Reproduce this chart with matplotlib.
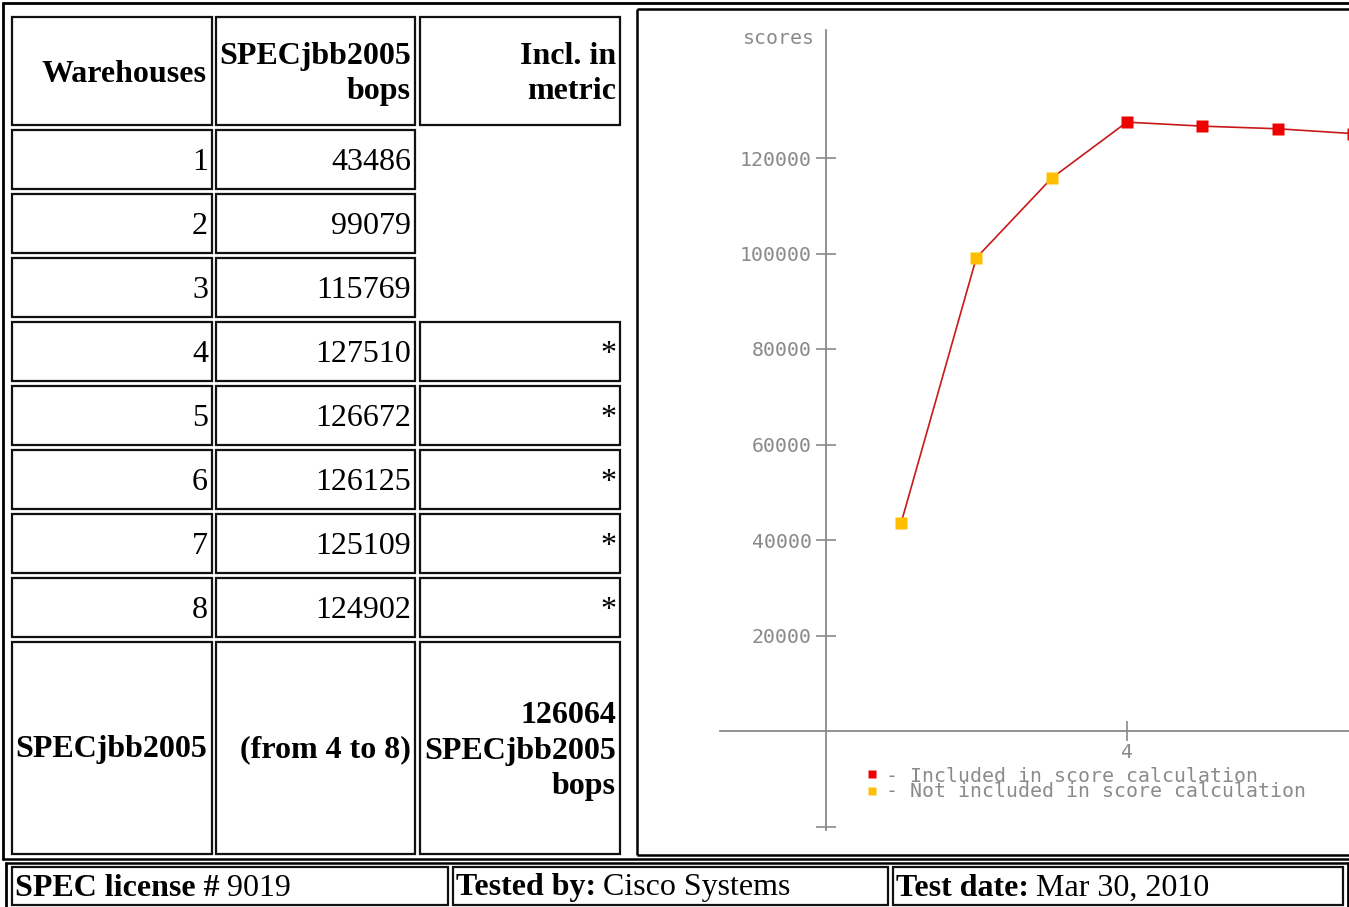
import matplotlib
matplotlib.use('Agg')
import matplotlib.pyplot as plt
from matplotlib.patches import Rectangle

# data
warehouses = [1, 2, 3, 4, 5, 6, 7, 8]
bops = [43486, 99079, 115769, 127510, 126672, 126125, 125109, 124902]
included = [False, False, False, True, True, True, True, True]
score = 126064
y_ticks = [-20000, 20000, 40000, 60000, 80000, 100000, 120000]
y_tick_labels = ['', '20000', '40000', '60000', '80000', '100000', '120000']
x_ticks = [4]
legend_labels = ['- Included in score calculation',
                 '- Not included in score calculation']

W, H = 1349, 907
fig = plt.figure(figsize=(W / 100, H / 100), dpi=100)

SERIF = 'Liberation Serif'
MONO = 'DejaVu Sans Mono'
GRAY = '#8a8a8a'
RED = '#ee0000'
YEL = '#ffbf00'
MS = 14.3   # chart text size

# ---- chart (pixel layout of the frame: x 637..1349, y 8..855) ----
px0, px1, py0, py1 = 637, 1349, 8, 855
ax = fig.add_axes([px0 / W, 1 - py1 / H, (px1 - px0) / W, (py1 - py0) / H])
x_org, x_step = 825.7, 75.3      # pixel of warehouse 0, pixels per warehouse
y_org, y_step = 731.0, 95.5      # pixel of score 0, pixels per 20000
ax.set_xlim((px0 - x_org) / x_step, (px1 - x_org) / x_step)
ax.set_ylim((y_org - py1) * 20000 / y_step, (y_org - py0) * 20000 / y_step)
ax.set_facecolor('white')


def ypx(p):
    return (y_org - p) * 20000 / y_step


ax.plot(warehouses, bops, color='#c81818', lw=1.2, zorder=2)
for w, b, inc in zip(warehouses, bops, included):
    ax.plot(w, b, marker='s', ms=8, color=RED if inc else YEL, mec='none', zorder=3)

for s in ['top', 'right']:
    ax.spines[s].set_visible(False)
ax.spines['left'].set_position(('data', 0))
ax.spines['bottom'].set_position(('data', 0))
ax.spines['left'].set_bounds(ypx(830), ypx(30))
ax.spines['bottom'].set_bounds(-1.4, 8)
for s in ['left', 'bottom']:
    ax.spines[s].set_color(GRAY)
    ax.spines[s].set_linewidth(1.3)
ax.set_yticks(y_ticks)
ax.set_yticklabels(y_tick_labels)
ax.set_xticks(x_ticks)
ax.set_xticklabels([str(t) for t in x_ticks])
ax.tick_params(axis='both', direction='inout', length=14, width=1.2, color=GRAY,
               labelcolor=GRAY, labelsize=MS)
ax.tick_params(axis='y', pad=3)
ax.tick_params(axis='x', pad=2)
for lab in ax.get_xticklabels() + ax.get_yticklabels():
    lab.set_family(MONO)
ax.text(-0.14, ypx(38), 'scores', ha='right', va='center', color=GRAY,
        family=MONO, fontsize=MS)

# legend (two tight lines, as in the original)
ax.plot(0.62, ypx(774), marker='s', ms=6, color=RED, mec='none', clip_on=False)
ax.plot(0.62, ypx(791), marker='s', ms=6, color=YEL, mec='none', clip_on=False)
ax.text(0.8, ypx(784), '\n'.join(legend_labels), ha='left', va='center',
        color=GRAY, family=MONO, fontsize=MS, linespacing=0.72)

# ---- page overlay in pixel coordinates ----
ov = fig.add_axes([0, 0, 1, 1], zorder=5)
ov.set_xlim(0, W)
ov.set_ylim(H, 0)
ov.axis('off')
ov.patch.set_alpha(0)


def cell(x0, y0, x1, y1):
    ov.add_patch(Rectangle((x0, y0), x1 - x0, y1 - y0, fill=False,
                           ec='#111111', lw=1.6))


def hline(y, x0, x1, lw=2.0):
    ov.plot([x0, x1], [y, y], color='black', lw=lw, solid_capstyle='butt')


def vline(x, y0, y1, lw=2.0):
    ov.plot([x, x], [y0, y1], color='black', lw=lw, solid_capstyle='butt')


# outer frame
hline(2.5, 2, W)
vline(2.5, 2, 860)
# chart frame
hline(9, px0, W, 1.8)
vline(px0, 9, 855, 1.8)
hline(855, px0, W, 1.8)
# separator before bottom row
hline(859, 2, W, 1.8)
hline(862.5, 5, W, 1.8)
vline(5.5, 862, H)
vline(1347.5, 862, H)

cols = [(12, 212), (216, 415), (420, 620)]
TS = 23
LS = 1.28
# header row
for c in cols:
    cell(c[0], 17, c[1], 125)
ov.text(207, 74, 'Warehouses', ha='right', va='center', family=SERIF,
        weight='bold', fontsize=TS)
ov.text(411, 74, 'SPECjbb2005\nbops', ha='right', va='center', family=SERIF,
        weight='bold', fontsize=TS, linespacing=LS, multialignment='right')
ov.text(616, 74, 'Incl. in\nmetric', ha='right', va='center', family=SERIF,
        weight='bold', fontsize=TS, linespacing=LS, multialignment='right')

# data rows
for i, (w, b, inc) in enumerate(zip(warehouses, bops, included)):
    y0 = 130 + 64 * i
    y1 = y0 + 59
    yc = (y0 + y1) / 2
    cell(cols[0][0], y0, cols[0][1], y1)
    cell(cols[1][0], y0, cols[1][1], y1)
    ov.text(cols[0][1] - 4, yc + 3, str(w), ha='right', va='center',
            family=SERIF, fontsize=TS)
    ov.text(cols[1][1] - 4, yc + 3, str(b), ha='right', va='center',
            family=SERIF, fontsize=TS)
    if inc:
        cell(cols[2][0], y0, cols[2][1], y1)
        ov.text(cols[2][1] - 4, yc + 3, '*', ha='right', va='center',
                family=SERIF, fontsize=TS)

# summary row
for c in cols:
    cell(c[0], 642, c[1], 854)
ov.text(207, 750, 'SPECjbb2005', ha='right', va='center', family=SERIF,
        weight='bold', fontsize=TS)
ov.text(411, 750, '(from 4 to 8)', ha='right', va='center', family=SERIF,
        weight='bold', fontsize=TS)
ov.text(616, 751, f'{score}\nSPECjbb2005\nbops', ha='right', va='center',
        family=SERIF, weight='bold', fontsize=TS, linespacing=LS,
        multialignment='right')

# bottom row
bottom_cells = [(12, 448, 'SPEC license #', '9019'),
                (453, 888, 'Tested by:', 'Cisco Systems'),
                (893, 1343, 'Test date:', 'Mar 30, 2010')]
fig.canvas.draw()
r = fig.canvas.get_renderer()
inv = ov.transData.inverted()
for x0, x1, key, val in bottom_cells:
    cell(x0, 867, x1, 905)
    t = ov.text(x0 + 3, 888, key, ha='left', va='center', family=SERIF,
                weight='bold', fontsize=TS)
    bb = t.get_window_extent(renderer=r)
    xe = inv.transform((bb.x1, bb.y0))[0]
    ov.text(xe + 7, 888, val, ha='left', va='center', family=SERIF,
            fontsize=TS)

fig.savefig('out.png', dpi=100)
